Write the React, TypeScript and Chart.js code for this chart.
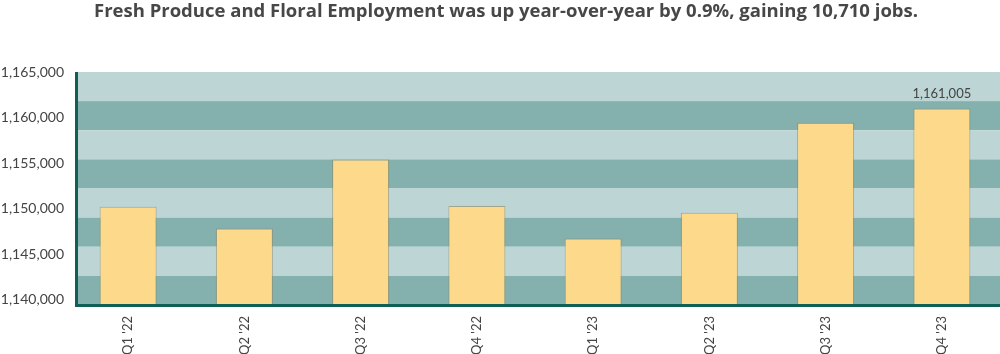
import React, { useEffect, useRef } from "react";
import { Chart, registerables } from "chart.js";

Chart.register(...registerables);

const titleText = "Fresh Produce and Floral Employment was up year-over-year by 0.9%, gaining 10,710 jobs.";
const categories = ["Q1 '22", "Q2 '22", "Q3 '22", "Q4 '22", "Q1 '23", "Q2 '23", "Q3 '23", "Q4 '23"];
const employment = [1150228, 1147848, 1155413, 1150295, 1146750, 1149569, 1159437, 1161005];
const yTicks = [1140000, 1145000, 1150000, 1155000, 1160000, 1165000];
const labeledIndex = [7];

const fmt = (v: number) => v.toLocaleString("en-US");

export default function App() {
  const ref = useRef<HTMLCanvasElement | null>(null);
  useEffect(() => {
    if (!ref.current) return;
    const axisX = 76;
    const decor = {
      id: "decor",
      beforeDatasetsDraw(chart: any) {
        const { ctx, chartArea } = chart;
        const { top, bottom, right } = chartArea;
        const h = (bottom - top) / 8;
        ctx.save();
        for (let i = 0; i < 8; i++) {
          ctx.fillStyle = i % 2 === 0 ? "#bdd5d5" : "#84b0ad";
          ctx.fillRect(axisX, top + i * h, right - axisX, h);
        }
        ctx.restore();
      },
      afterDatasetsDraw(chart: any) {
        const { ctx, chartArea } = chart;
        const { top, bottom, right } = chartArea;
        ctx.save();
        ctx.fillStyle = "#0f5f55";
        ctx.fillRect(axisX - 1, top, 3, bottom - top + 1);
        ctx.fillRect(axisX - 1, bottom - 1, right - axisX + 1, 3);
        const meta = chart.getDatasetMeta(0);
        ctx.fillStyle = "#444";
        ctx.font = "13px Lato";
        ctx.textAlign = "center";
        ctx.textBaseline = "middle";
        labeledIndex.forEach((i) => {
          const el = meta.data[i];
          ctx.fillText(fmt(employment[i]), el.x, el.y - 15);
        });
        ctx.fillStyle = "#474747";
        ctx.font = "bold 18.5px 'Open Sans'";
        ctx.fillText(titleText, 506, 12);
        ctx.restore();
      },
    };
    const chart = new Chart(ref.current, {
      type: "bar",
      data: {
        labels: categories,
        datasets: [
          {
            data: employment,
            backgroundColor: "#fdd98b",
            borderColor: "rgba(140,125,80,0.55)",
            borderWidth: 1,
            borderSkipped: "bottom",
            barPercentage: 0.49,
            categoryPercentage: 1,
          },
        ],
      },
      options: {
        animation: false,
        responsive: false,
        layout: { padding: { top: 72, left: 0, right: 0, bottom: 0 } },
        plugins: { legend: { display: false }, tooltip: { enabled: false }, title: { display: false } },
        scales: {
          x: {
            grid: { display: false, drawTicks: false },
            border: { display: false },
            ticks: {
              minRotation: 90,
              maxRotation: 90,
              padding: 11,
              color: "#444",
              font: { family: "Lato", size: 13 },
            },
            afterFit: (s: any) => {
              s.height = 49;
            },
          },
          y: {
            min: 1139450,
            max: 1165000,
            grid: { display: false, drawTicks: false },
            border: { display: false },
            afterBuildTicks: (s: any) => {
              s.ticks = yTicks.map((v) => ({ value: v }));
            },
            ticks: {
              padding: 6,
              color: "#444",
              font: { family: "Lato", size: 14 },
              callback: (v: any) => fmt(Number(v)),
            },
            afterFit: (s: any) => {
              s.width = 70;
            },
          },
        },
      },
      plugins: [decor],
    });
    return () => chart.destroy();
  }, []);
  return (
    <div style={{ position: "absolute", left: 0, top: 0, width: 1000, height: 354, background: "#fff" }}>
      <canvas ref={ref} width={1000} height={354} style={{ display: "block" }} />
    </div>
  );
}
